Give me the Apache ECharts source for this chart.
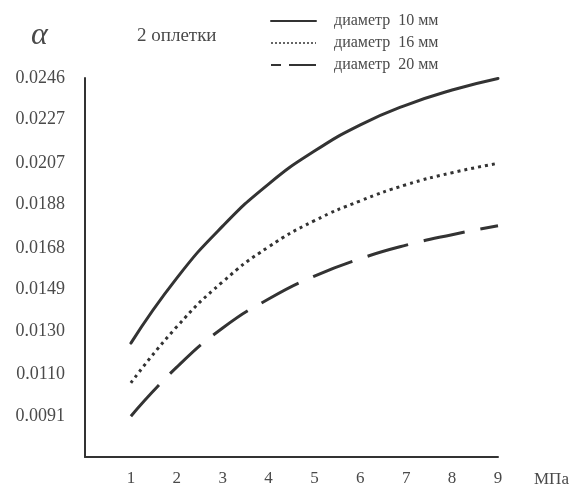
<!DOCTYPE html>
<html>
<head>
<meta charset="utf-8">
<style>
  html, body { margin: 0; padding: 0; background: #fff; }
  #chart { width: 573px; height: 492px; }
</style>
<script src="https://cdn.jsdelivr.net/npm/echarts@6/dist/echarts.min.js"></script>
</head>
<body>
<div id="chart"></div>
<script>
// давление, МПа
let pressure = [1, 2, 3, 4, 5, 6, 7, 8, 9];
// alpha для трёх диаметров
let d10 = [0.01245, 0.01543, 0.01781, 0.01974, 0.02125, 0.02245, 0.02336, 0.02405, 0.02458];
let d16 = [0.01063, 0.01320, 0.01526, 0.01686, 0.01806, 0.01897, 0.01971, 0.02026, 0.02069];
let d20 = [0.00910, 0.01135, 0.01314, 0.01447, 0.01552, 0.01632, 0.01694, 0.01742, 0.01783];
let yTickLabels = ['0.0091', '0.0110', '0.0130', '0.0149', '0.0168', '0.0188', '0.0207', '0.0227', '0.0246'];
let seriesNames = ['диаметр  10 мм', 'диаметр  16 мм', 'диаметр  20 мм'];

let AlphaChart = (function () {
    let chart = echarts.init(document.getElementById('chart'));
    let ink = '#333';
    let grey = '#4a4a4a';
    let serif = '"Liberation Serif", "DejaVu Serif", serif';

    let pairs = function (values) {
        return pressure.map((p, i) => [p, values[i]]);
    };

    let make_series = function (name, values, lineType, cap) {
        return {
            name: name,
            type: 'line',
            smooth: true,
            symbol: 'none',
            data: pairs(values),
            lineStyle: {color: ink, width: 3, type: lineType, cap: cap},
            itemStyle: {color: ink}
        };
    };

    let _init = function () {
        let option = {
            backgroundColor: '#fff',
            animation: false,
            grid: {left: 85, right: 75, top: 78, bottom: 35},
            legend: {
                orient: 'vertical',
                left: 265,
                top: 8,
                itemWidth: 45,
                itemHeight: 14,
                itemGap: 6,
                itemStyle: {opacity: 0},
                textStyle: {fontFamily: serif, fontSize: 16, lineHeight: 14, color: grey,
                    padding: [0, 0, 0, 13]},
                data: [
                    {name: seriesNames[0], lineStyle: {width: 2, type: 'solid'}},
                    {name: seriesNames[1], lineStyle: {width: 1.5, type: [2, 2]}},
                    {name: seriesNames[2], lineStyle: {width: 2, type: [10, 8, 27, 100]}}
                ]
            },
            graphic: [
                {type: 'text', left: 31, top: 20,
                    style: {text: 'α', font: 'italic 32px ' + serif, fill: grey}},
                {type: 'text', left: 137, top: 27,
                    style: {text: '2 оплетки', font: '19px ' + serif, fill: grey}}
            ],
            xAxis: {
                type: 'value',
                min: 0,
                max: 9,
                interval: 1,
                name: 'МПа',
                nameLocation: 'end',
                nameGap: 36,
                nameTextStyle: {fontFamily: serif, fontSize: 17, color: grey,
                    align: 'left', verticalAlign: 'top', padding: [14, 0, 0, 0]},
                axisLine: {show: true, lineStyle: {color: ink, width: 2}},
                axisTick: {show: false},
                splitLine: {show: false},
                axisLabel: {
                    margin: 13,
                    fontFamily: serif, fontSize: 17, color: grey,
                    formatter: v => v === 0 ? '' : String(v)
                }
            },
            yAxis: {
                type: 'value',
                min: 0.00723,
                max: 0.0246,
                axisLine: {show: true, lineStyle: {color: ink, width: 2}},
                axisTick: {show: false},
                splitLine: {show: false},
                axisLabel: {
                    customValues: yTickLabels.map(Number),
                    margin: 20,
                    fontFamily: serif, fontSize: 18, color: grey,
                    formatter: v => v.toFixed(4)
                }
            },
            series: [
                make_series(seriesNames[0], d10, 'solid', 'round'),
                make_series(seriesNames[1], d16, [3, 4], 'butt'),
                make_series(seriesNames[2], d20, [42, 16], 'butt')
            ]
        };
        chart.setOption(option);
    };

    return {
        init: _init
    };
})();
AlphaChart.init();
</script>
</body>
</html>
